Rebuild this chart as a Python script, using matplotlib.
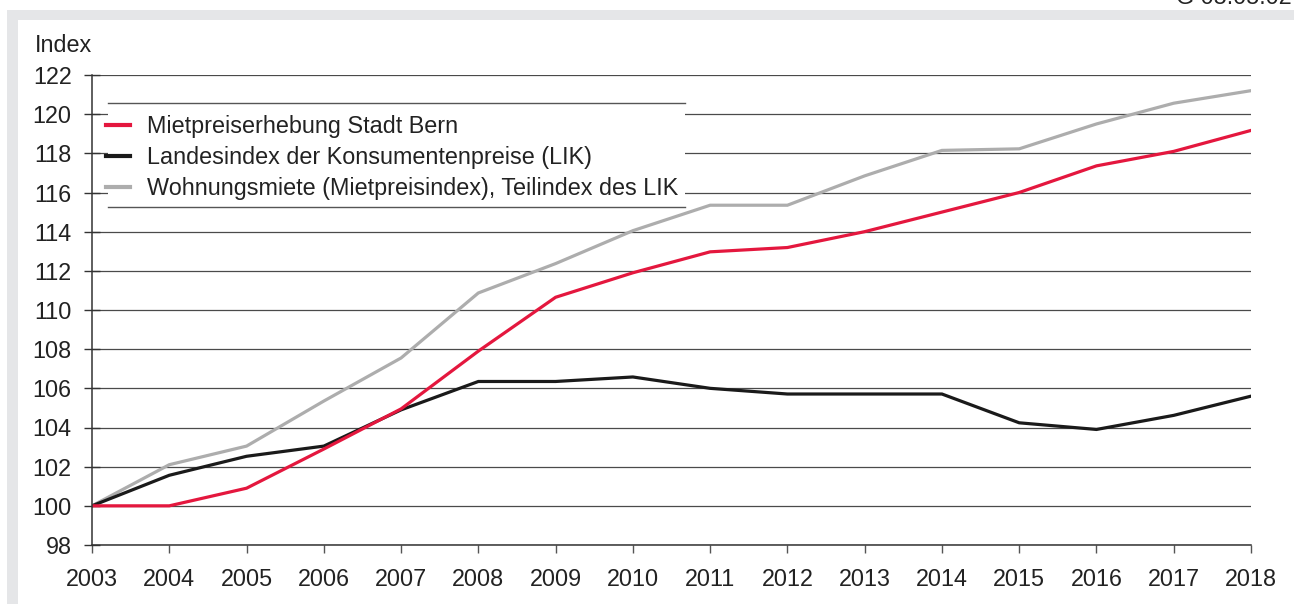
import matplotlib

matplotlib.use("Agg")

import matplotlib.pyplot as plt
from matplotlib.patches import Rectangle
from matplotlib.lines import Line2D

plt.rcParams['font.family'] = ['Liberation Sans', 'DejaVu Sans']

years = list(range(2003, 2019))

# Mietpreiserhebung Stadt Bern
bern = [100.0, 100.0, 100.9, 102.9, 104.95, 107.9, 110.65, 111.9,
        112.97, 113.19, 114.0, 115.0, 116.0, 117.36, 118.1, 119.17]
# Landesindex der Konsumentenpreise (LIK)
lik = [100.0, 101.56, 102.53, 103.05, 104.9, 106.35, 106.35, 106.58,
       106.0, 105.71, 105.71, 105.71, 104.24, 103.9, 104.62, 105.6]
# Wohnungsmiete (Mietpreisindex), Teilindex des LIK
miete = [100.0, 102.1, 103.05, 105.35, 107.55, 110.87, 112.37, 114.05,
         115.35, 115.35, 116.85, 118.15, 118.23, 119.5, 120.56, 121.2]

labels = ["Mietpreiserhebung Stadt Bern",
          "Landesindex der Konsumentenpreise (LIK)",
          "Wohnungsmiete (Mietpreisindex), Teilindex des LIK"]
yticks = list(range(98, 123, 2))

RED = '#e4173e'
BLACK = '#1a1a1a'
GRAY = '#adadad'
TXT = '#222222'
FS = 16.8

W, H = 1294, 604
fig = plt.figure(figsize=(W / 100, H / 100), dpi=100)

# grey frame bands (top and left)
fig.patches.append(Rectangle((7 / W, 0), 11 / W, 1 - 10 / H, transform=fig.transFigure,
                             color='#e5e6e8', lw=0, zorder=0))
fig.patches.append(Rectangle((7 / W, 1 - 20 / H), 1, 10 / H, transform=fig.transFigure,
                             color='#e5e6e8', lw=0, zorder=0))
fig.text(1292 / W, 1 - 4 / H, "G 05.05.02", ha='right', va='baseline',
         fontsize=FS, color=TXT)

ax = fig.add_axes([92 / W, (H - 545) / H, 1159 / W, 470 / H])

ax.plot(years, miete, color=GRAY, lw=2.3, solid_joinstyle='miter', zorder=3)
ax.plot(years, lik, color=BLACK, lw=2.3, solid_joinstyle='miter', zorder=4)
ax.plot(years, bern, color=RED, lw=2.3, solid_joinstyle='miter', zorder=5)

ax.set_xlim(2003, 2018)
ax.set_ylim(98, 122)
ax.set_xticks(years)
ax.set_yticks(yticks)
ax.grid(axis='y', color='#4a4a4a', lw=0.9, zorder=1)

for s in ['top', 'right']:
    ax.spines[s].set_visible(False)
for s in ['left', 'bottom']:
    ax.spines[s].set_color('#333333')
    ax.spines[s].set_linewidth(1.1)
    ax.spines[s].set_zorder(6)

ax.tick_params(axis='y', direction='inout', length=11.5, width=1.0, color='#333333',
               pad=9.0, labelsize=FS, labelcolor=TXT)
ax.tick_params(axis='x', direction='out', length=6, width=1.0, color='#555555',
               pad=10.5, labelsize=FS, labelcolor=TXT)

fig.text(35 / W, 1 - 45 / H, "Index", ha='left', va='center', fontsize=FS, color=TXT)

# legend box: white fill with lines above and below
x0, x1 = (108 - 92) / 1159, (685 - 92) / 1159
y0, y1 = (545 - 207) / 470, (545 - 103) / 470
ax.add_patch(Rectangle((x0, y0), x1 - x0, y1 - y0, transform=ax.transAxes,
                       facecolor='white', edgecolor='none', zorder=7))
for yy in (y0, y1):
    ax.add_line(Line2D([x0, x1], [yy, yy], transform=ax.transAxes,
                       color='#555555', lw=1.0, zorder=8))

handles = [Line2D([], [], color=c, lw=3) for c in (RED, BLACK, GRAY)]
leg = ax.legend(handles, labels, loc='upper left', bbox_to_anchor=(0.012, 0.914),
                frameon=False, fontsize=FS, handlelength=1.05, handletextpad=0.69,
                labelspacing=0.33, borderpad=0, borderaxespad=0)
leg.set_zorder(9)
for t in leg.get_texts():
    t.set_color(TXT)

plt.savefig("out.png", dpi=100)
